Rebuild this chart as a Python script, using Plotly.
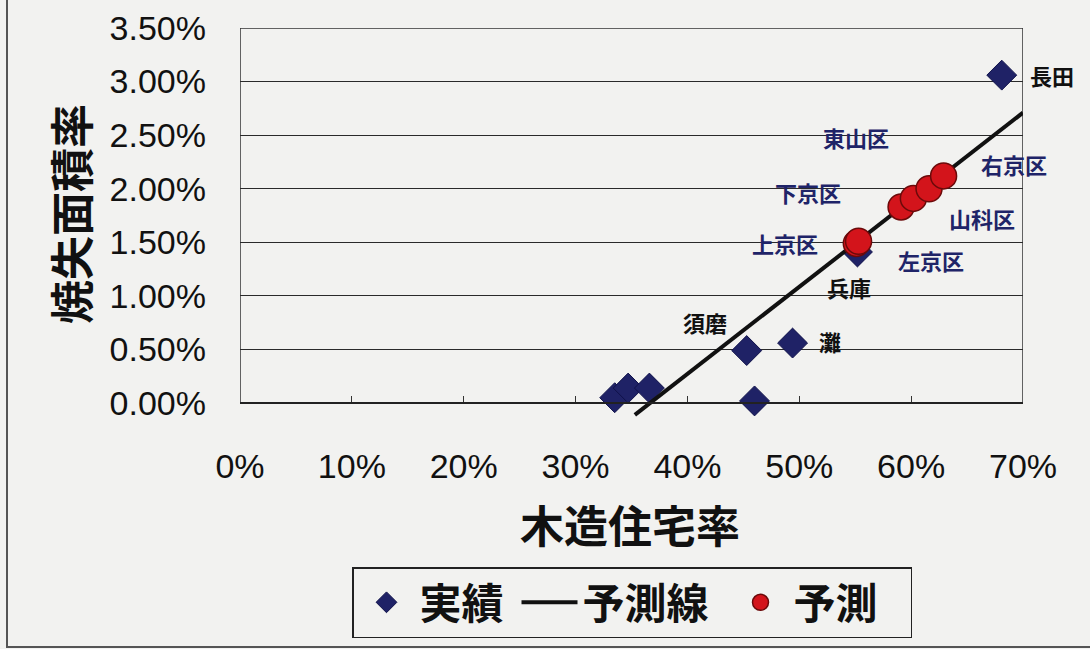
import plotly.graph_objects as go

# 木造住宅率 (%) と 焼失面積率 (%) の実績 (神戸市各区)
actual_names = ["長田", "須磨", "灘", "兵庫", "", "", "", ""]
actual_wood = [68.1, 45.3, 49.4, 55.2, 33.5, 34.7, 36.6, 46.0]
actual_burn = [3.06, 0.49, 0.56, 1.41, 0.05, 0.14, 0.14, 0.02]

# 予測線 (回帰直線の両端)
trend_wood = [35.3, 70.0]
trend_burn = [-0.11, 2.71]

# 京都市各区の予測値
pred_names = ["上京区", "左京区", "下京区", "東山区", "山科区", "右京区"]
pred_wood = [55.1, 55.3, 59.1, 60.2, 61.6, 62.9]
pred_burn = [1.49, 1.51, 1.83, 1.91, 2.00, 2.12]

# 軸目盛
x_ticks = [0, 10, 20, 30, 40, 50, 60, 70]
x_ticktext = ["0%", "10%", "20%", "30%", "40%", "50%", "60%", "70%"]
y_ticks = [0, 0.5, 1.0, 1.5, 2.0, 2.5, 3.0, 3.5]
y_ticktext = ["0.00%", "0.50%", "1.00%", "1.50%", "2.00%", "2.50%", "3.00%", "3.50%"]

# ラベル位置 (点からのピクセルずれ: dx, dy 上向き正)
label_offsets = {
    "長田": (50, 0), "須磨": (-42, 29), "灘": (37, 2), "兵庫": (-8, -35),
    "上京区": (-71, 0), "左京区": (72, -19), "下京区": (-93, 15),
    "東山区": (-57, 61), "山科区": (53, -29), "右京区": (70, 12),
}

JP = "Noto Sans CJK JP"
LAT = "Liberation Sans"
BG = "#f2f2f0"
NAVY = "#1f2468"

W, H = 1090, 649
L, R, T, B = 240, 67, 28, 232
pw, ph = W - L - R, H - T - B
Y_MIN, Y_MAX = -0.13, 3.5


def px_x(px):
    return (px - L) / pw


def px_y(py):
    return (H - B - py) / ph


fig = go.Figure()

fig.add_trace(go.Scatter(
    x=actual_wood, y=actual_burn, mode="markers", name="実績",
    marker=dict(symbol="diamond", size=23, color="#1f2266",
                line=dict(width=1, color="#10124a")),
    cliponaxis=False, legendwidth=92,
))
fig.add_trace(go.Scatter(
    x=trend_wood, y=trend_burn, mode="lines", name="予測線",
    line=dict(color="#111111", width=4),
    legendwidth=140,
))
fig.add_trace(go.Scatter(
    x=pred_wood, y=pred_burn, mode="markers", name="予測",
    marker=dict(symbol="circle", size=26, color="#d3141b",
                line=dict(width=1.5, color="#6b0a0a")),
    cliponaxis=False, legendwidth=112,
))

annotations = []
for names, xs, ys, color in (
    (actual_names, actual_wood, actual_burn, "#111111"),
    (pred_names, pred_wood, pred_burn, NAVY),
):
    for n, xv, yv in zip(names, xs, ys):
        if not n:
            continue
        dx, dy = label_offsets[n]
        annotations.append(dict(
            x=xv, y=yv, xref="x", yref="y", text=n, showarrow=False,
            xshift=dx, yshift=dy,
            font=dict(family=JP, size=22, color=color, weight="bold"),
        ))

# 軸タイトル
annotations.append(dict(
    x=px_x(630), y=px_y(524), xref="paper", yref="paper", text="木造住宅率",
    xanchor="center", yanchor="middle", showarrow=False,
    font=dict(family=JP, size=44, color="#111111", weight="bold"),
))
annotations.append(dict(
    x=px_x(70), y=px_y(214), xref="paper", yref="paper", text="焼失面積率",
    xanchor="center", yanchor="middle", showarrow=False, textangle=-90,
    font=dict(family=JP, size=44, color="#111111", weight="bold"),
))

shapes = [
    # プロットエリアの枠
    dict(type="rect", xref="x", yref="y", x0=0, x1=70, y0=0, y1=3.5,
         line=dict(color="#333333", width=1.5), layer="below"),
    # 外枠 (左・下)
    dict(type="line", xref="paper", yref="paper", x0=px_x(7), x1=px_x(7),
         y0=px_y(648), y1=px_y(-5), line=dict(color="#555555", width=2)),
    dict(type="line", xref="paper", yref="paper", x0=px_x(7), x1=px_x(1095),
         y0=px_y(647), y1=px_y(647), line=dict(color="#555555", width=2)),
]

fig.update_layout(
    width=W, height=H,
    margin=dict(l=L, r=R, t=T, b=B, autoexpand=False),
    paper_bgcolor=BG, plot_bgcolor=BG,
    showlegend=True,
    legend=dict(
        orientation="h", x=px_x(352), xanchor="left",
        y=px_y(638), yanchor="bottom",
        bgcolor=BG, bordercolor="#222222", borderwidth=1.5,
        font=dict(family=JP, size=42, color="#111111", weight="bold"),
        itemwidth=56,
    ),
    xaxis=dict(
        range=[0, 70], tickvals=x_ticks, ticktext=x_ticktext,
        anchor="free", position=(0 - Y_MIN) / (Y_MAX - Y_MIN),
        showgrid=False, zeroline=False, showline=True,
        linecolor="#222222", linewidth=1.5,
        ticks="inside", ticklen=6, tickcolor="#333333", tickwidth=1,
        tickfont=dict(family=LAT, size=34, color="#111111"),
        ticklabelstandoff=33,
    ),
    yaxis=dict(
        range=[Y_MIN, Y_MAX], tickvals=y_ticks, ticktext=y_ticktext,
        showgrid=True, gridcolor="#2a2a2a", gridwidth=1.3,
        zeroline=False, showline=False, ticks="",
        tickfont=dict(family=LAT, size=34, color="#111111"),
        ticklabelstandoff=33,
    ),
    annotations=annotations,
    shapes=shapes,
)

fig.write_html("out.html")
